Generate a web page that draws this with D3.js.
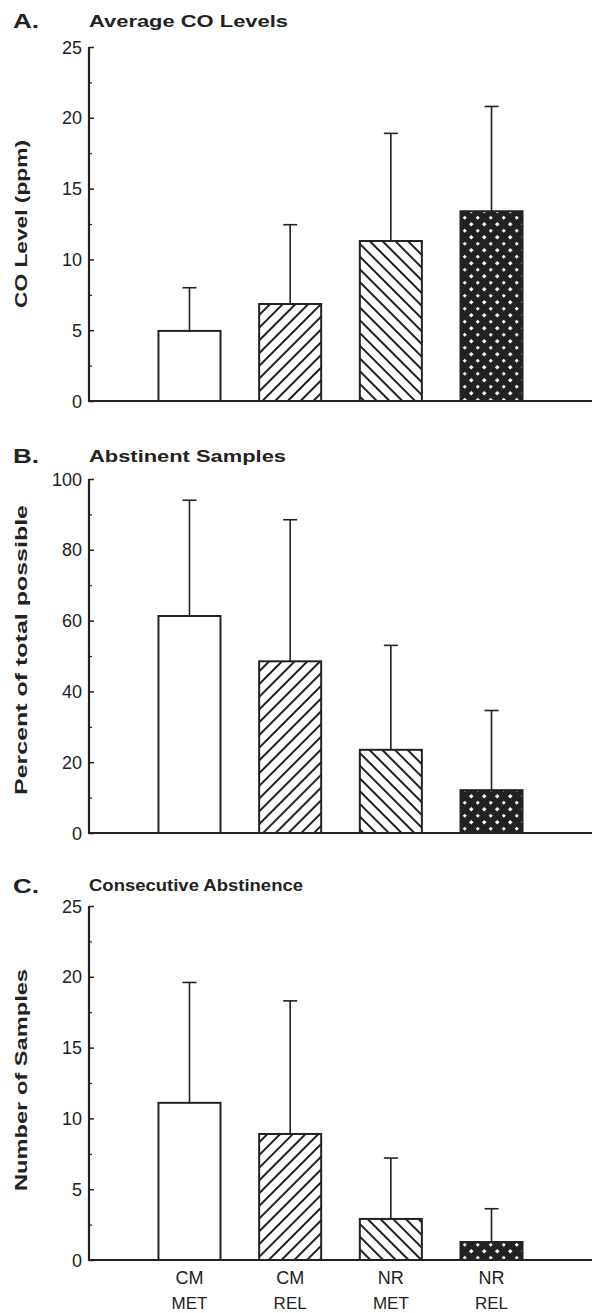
<!DOCTYPE html>
<html><head><meta charset="utf-8">
<script src="https://cdn.jsdelivr.net/npm/d3@7"></script>
<style>
html,body{margin:0;padding:0;background:#fff;}
svg{display:block;}
text{font-family:"Liberation Sans",Arial,Helvetica,sans-serif;fill:#222;}
</style></head>
<body>
<svg id="chart" width="592" height="1313"></svg>
<script>
const categories = ["CM MET","CM REL","NR MET","NR REL"];
const catLine1 = ["CM","CM","NR","NR"];
const catLine2 = ["MET","REL","MET","REL"];

const coMeans = [4.95, 6.85, 11.3, 13.4];
const coErrTops = [8.0, 12.45, 18.9, 20.8];
const coTicks = [0,5,10,15,20,25];

const abstMeans = [61.3, 48.5, 23.5, 12.1];
const abstErrTops = [94, 88.5, 53, 34.6];
const abstTicks = [0,20,40,60,80,100];

const consMeans = [11.1, 8.9, 2.9, 1.27];
const consErrTops = [19.6, 18.3, 7.2, 3.62];
const consTicks = [0,5,10,15,20,25];

const patterns = ["none","fwd","back","dots"];

const panels = [
  {letter:"A.", title:"Average CO Levels", titleLen:199, titleSize:17, ylabel:"CO Level (ppm)", ylabelLen:168,
   means:coMeans, errs:coErrTops, ticks:coTicks, max:25, top:47, bottom:401, letterY:27.5, titleY:26.7, labelShift:0},
  {letter:"B.", title:"Abstinent Samples", titleLen:197, titleSize:17, ylabel:"Percent of total possible", ylabelLen:290,
   means:abstMeans, errs:abstErrTops, ticks:abstTicks, max:100, top:479, bottom:833, letterY:463, titleY:461.7, labelShift:-6},
  {letter:"C.", title:"Consecutive Abstinence", titleLen:214, titleSize:16, ylabel:"Number of Samples", ylabelLen:222,
   means:consMeans, errs:consErrTops, ticks:consTicks, max:25, top:906, bottom:1260, letterY:893, titleY:890.7, labelShift:-3}
];

const svg = d3.select("#chart");
const defs = svg.append("defs");
function hatch(id, angle){
  const p = defs.append("pattern").attr("id",id).attr("patternUnits","userSpaceOnUse")
    .attr("width",9).attr("height",9).attr("patternTransform",`rotate(${angle})`);
  p.append("rect").attr("width",9).attr("height",9).attr("fill","#fff");
  p.append("line").attr("x1",1).attr("y1",0).attr("x2",1).attr("y2",9).attr("stroke","#222").attr("stroke-width",2);
}
hatch("fwd",45);
hatch("back",-45);
const pd = defs.append("pattern").attr("id","dots").attr("patternUnits","userSpaceOnUse")
  .attr("width",13).attr("height",13);
pd.append("rect").attr("width",13).attr("height",13).attr("fill","#222");
[[3.25,3.25,2.3],[9.75,9.75,2.0]].forEach(([cx,cy,r])=>{
  pd.append("path").attr("d",`M${cx-r},${cy}L${cx},${cy-r}L${cx+r},${cy}L${cx},${cy+r}Z`).attr("fill","#fff");
});

const x = d3.scaleBand().domain(categories).range([89,592]).paddingInner(0.384).paddingOuter(0.69);
const axisX = 89;

panels.forEach(p=>{
  const y = d3.scaleLinear().domain([0,p.max]).range([p.bottom,p.top]);
  const g = svg.append("g");
  g.append("text").attr("x",13).attr("y",p.letterY).attr("font-size",20).attr("font-weight","bold")
    .attr("textLength",26).attr("lengthAdjust","spacingAndGlyphs").text(p.letter);
  g.append("text").attr("x",89).attr("y",p.titleY).attr("font-size",p.titleSize).attr("font-weight","bold")
    .attr("textLength",p.titleLen).attr("lengthAdjust","spacingAndGlyphs").text(p.title);
  const cy = (p.top+p.bottom)/2 + p.labelShift;
  g.append("text").attr("transform",`translate(27,${cy}) rotate(-90)`).attr("text-anchor","middle")
    .attr("font-size",17).attr("font-weight","bold")
    .attr("textLength",p.ylabelLen).attr("lengthAdjust","spacingAndGlyphs").text(p.ylabel);

  // bars
  g.selectAll(".bar").data(categories).join("rect")
    .attr("x",d=>x(d)).attr("width",x.bandwidth())
    .attr("y",(d,i)=>y(p.means[i])).attr("height",(d,i)=>y(0)-y(p.means[i]))
    .attr("fill",(d,i)=>patterns[i]==="none"?"#fff":`url(#${patterns[i]})`)
    .attr("stroke","#222").attr("stroke-width",2);
  // error bars
  g.selectAll(".err").data(categories).join("line")
    .attr("x1",d=>x(d)+x.bandwidth()/2).attr("x2",d=>x(d)+x.bandwidth()/2)
    .attr("y1",(d,i)=>y(p.means[i])).attr("y2",(d,i)=>y(p.errs[i]))
    .attr("stroke","#222").attr("stroke-width",1.6);
  g.selectAll(".cap").data(categories).join("line")
    .attr("x1",d=>x(d)+x.bandwidth()/2-7).attr("x2",d=>x(d)+x.bandwidth()/2+7)
    .attr("y1",(d,i)=>y(p.errs[i])).attr("y2",(d,i)=>y(p.errs[i]))
    .attr("stroke","#222").attr("stroke-width",1.6);

  // y axis
  const step = p.ticks[1]-p.ticks[0];
  const minor = p.ticks.slice(0,-1).map(t=>t+step/2);
  const yAxis = d3.axisRight(y).tickValues(p.ticks).tickSize(5).tickFormat("");
  const ya = g.append("g").attr("transform",`translate(${axisX},0)`).call(yAxis);
  ya.select(".domain").remove();
  ya.selectAll("line").attr("stroke","#222").attr("stroke-width",1.5);
  const ym = g.append("g").attr("transform",`translate(${axisX},0)`).call(d3.axisRight(y).tickValues(minor).tickSize(3).tickFormat(""));
  ym.select(".domain").remove();
  ym.selectAll("line").attr("stroke","#222").attr("stroke-width",1.2);
  g.selectAll(".tl").data(p.ticks).join("text").attr("x",82).attr("y",d=>y(d)+6.5)
    .attr("text-anchor","end").attr("font-size",18).text(d=>d);
  g.append("line").attr("x1",axisX).attr("x2",axisX).attr("y1",y(p.max)).attr("y2",y(0)+1)
    .attr("stroke","#222").attr("stroke-width",2.2);
  g.append("line").attr("x1",axisX-1).attr("x2",592).attr("y1",y(0)).attr("y2",y(0))
    .attr("stroke","#222").attr("stroke-width",2.2);
});

// x labels
svg.selectAll(".xl1").data(categories).join("text")
  .attr("x",d=>x(d)+x.bandwidth()/2).attr("y",1284).attr("text-anchor","middle").attr("font-size",18)
  .text((d,i)=>catLine1[i]);
svg.selectAll(".xl2").data(categories).join("text")
  .attr("x",d=>x(d)+x.bandwidth()/2).attr("y",1309).attr("text-anchor","middle").attr("font-size",17)
  .text((d,i)=>catLine2[i]);
</script>
</body></html>
